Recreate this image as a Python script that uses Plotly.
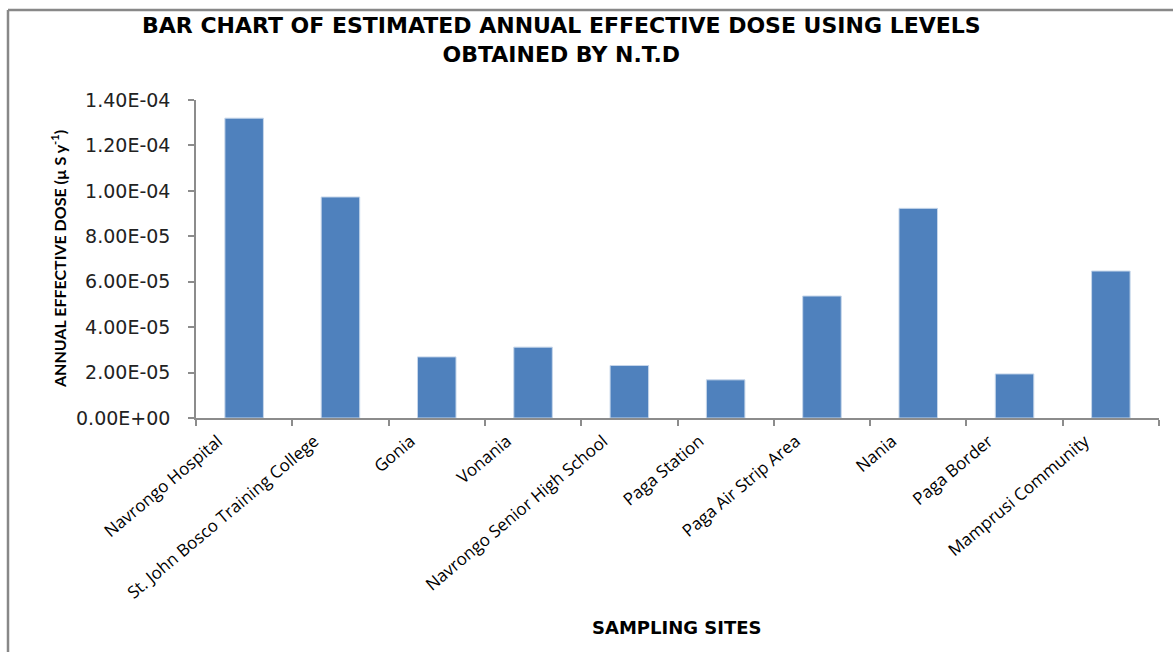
import plotly.graph_objects as go

# Sampling sites and estimated annual effective dose (µSv per year)
sites = [
    "Navrongo Hospital",
    "St. John Bosco Training College",
    "Gonia",
    "Vonania",
    "Navrongo Senior High School",
    "Paga Station",
    "Paga Air Strip Area",
    "Nania",
    "Paga Border",
    "Mamprusi Community",
]
dose = [1.32e-4, 9.73e-5, 2.69e-5, 3.12e-5, 2.31e-5, 1.68e-5, 5.37e-5, 9.23e-5, 1.94e-5, 6.47e-5]

# y-axis ticks in Excel-style scientific notation
y_tick_vals = [0, 2e-5, 4e-5, 6e-5, 8e-5, 1e-4, 1.2e-4, 1.4e-4]
y_tick_text = ["0.00E+00", "2.00E-05", "4.00E-05", "6.00E-05",
               "8.00E-05", "1.00E-04", "1.20E-04", "1.40E-04"]

W, H = 1173, 652
L, R, T, B = 196, 14, 100, 234
PW, PH = W - L - R, H - T - B
AXIS_GREY = "#8c8c8c"
LABEL_FONT = "Open Sans, Lato, sans-serif"
WIDE_FONT = "DejaVu Sans, Verdana, sans-serif"


def px_x(px):
    """Horizontal pixel position -> paper coordinate."""
    return (px - L) / PW


def px_y(py):
    """Vertical pixel position -> paper coordinate."""
    return (H - B - py) / PH


fig = go.Figure(
    go.Bar(
        x=sites,
        y=dose,
        marker=dict(color="#4F81BD", line=dict(color="#c6d6ea", width=1)),
        hoverinfo="x+y",
    )
)

fig.update_layout(
    width=W,
    height=H,
    margin=dict(l=L, r=R, t=T, b=B, pad=0),
    paper_bgcolor="white",
    plot_bgcolor="white",
    bargap=0.6,
    showlegend=False,
    xaxis=dict(
        type="category",
        tickson="boundaries",
        ticks="outside",
        ticklen=6,
        tickcolor=AXIS_GREY,
        tickwidth=1.5,
        tickangle=-40,
        ticklabelshift=-26,
        ticklabelstandoff=5,
        tickfont=dict(family=LABEL_FONT, size=17, color="black"),
        showline=True,
        linecolor=AXIS_GREY,
        linewidth=1.5,
        showgrid=False,
        zeroline=False,
        fixedrange=True,
    ),
    yaxis=dict(
        range=[0, 1.4e-4],
        tickmode="array",
        tickvals=y_tick_vals,
        ticktext=y_tick_text,
        ticks="outside",
        ticklen=6,
        tickcolor=AXIS_GREY,
        tickwidth=1.5,
        tickfont=dict(family=WIDE_FONT, size=19, color="#222222"),
        ticklabelstandoff=14,
        showline=True,
        linecolor=AXIS_GREY,
        linewidth=1.5,
        showgrid=False,
        zeroline=False,
        fixedrange=True,
    ),
    annotations=[
        dict(
            text="BAR CHART OF ESTIMATED ANNUAL EFFECTIVE DOSE USING LEVELS<br>OBTAINED BY N.T.D",
            xref="paper", yref="paper",
            x=px_x(561), y=px_y(40),
            xanchor="center", yanchor="middle",
            showarrow=False,
            font=dict(family=WIDE_FONT, size=22, color="black", weight="bold"),
        ),
        dict(
            text="ANNUAL EFFECTIVE DOSE (µ S y<sup>-1</sup>)",
            xref="paper", yref="paper",
            x=px_x(58), y=0.5,
            xanchor="center", yanchor="middle",
            textangle=-90,
            showarrow=False,
            font=dict(family="Lato, sans-serif", size=16, color="black", weight="bold"),
        ),
        dict(
            text="SAMPLING SITES",
            xref="paper", yref="paper",
            x=px_x(676), y=px_y(627),
            xanchor="center", yanchor="middle",
            showarrow=False,
            font=dict(family=WIDE_FONT, size=18, color="black", weight="bold"),
        ),
    ],
    shapes=[
        # chart-area frame (top and left edges)
        dict(type="line", xref="paper", yref="paper",
             x0=px_x(8), x1=px_x(W + 5), y0=px_y(10), y1=px_y(10),
             line=dict(color="#888888", width=2.5)),
        dict(type="line", xref="paper", yref="paper",
             x0=px_x(8), x1=px_x(8), y0=px_y(10), y1=px_y(H + 5),
             line=dict(color="#888888", width=2.5)),
    ],
)

fig.write_html("out.html")
